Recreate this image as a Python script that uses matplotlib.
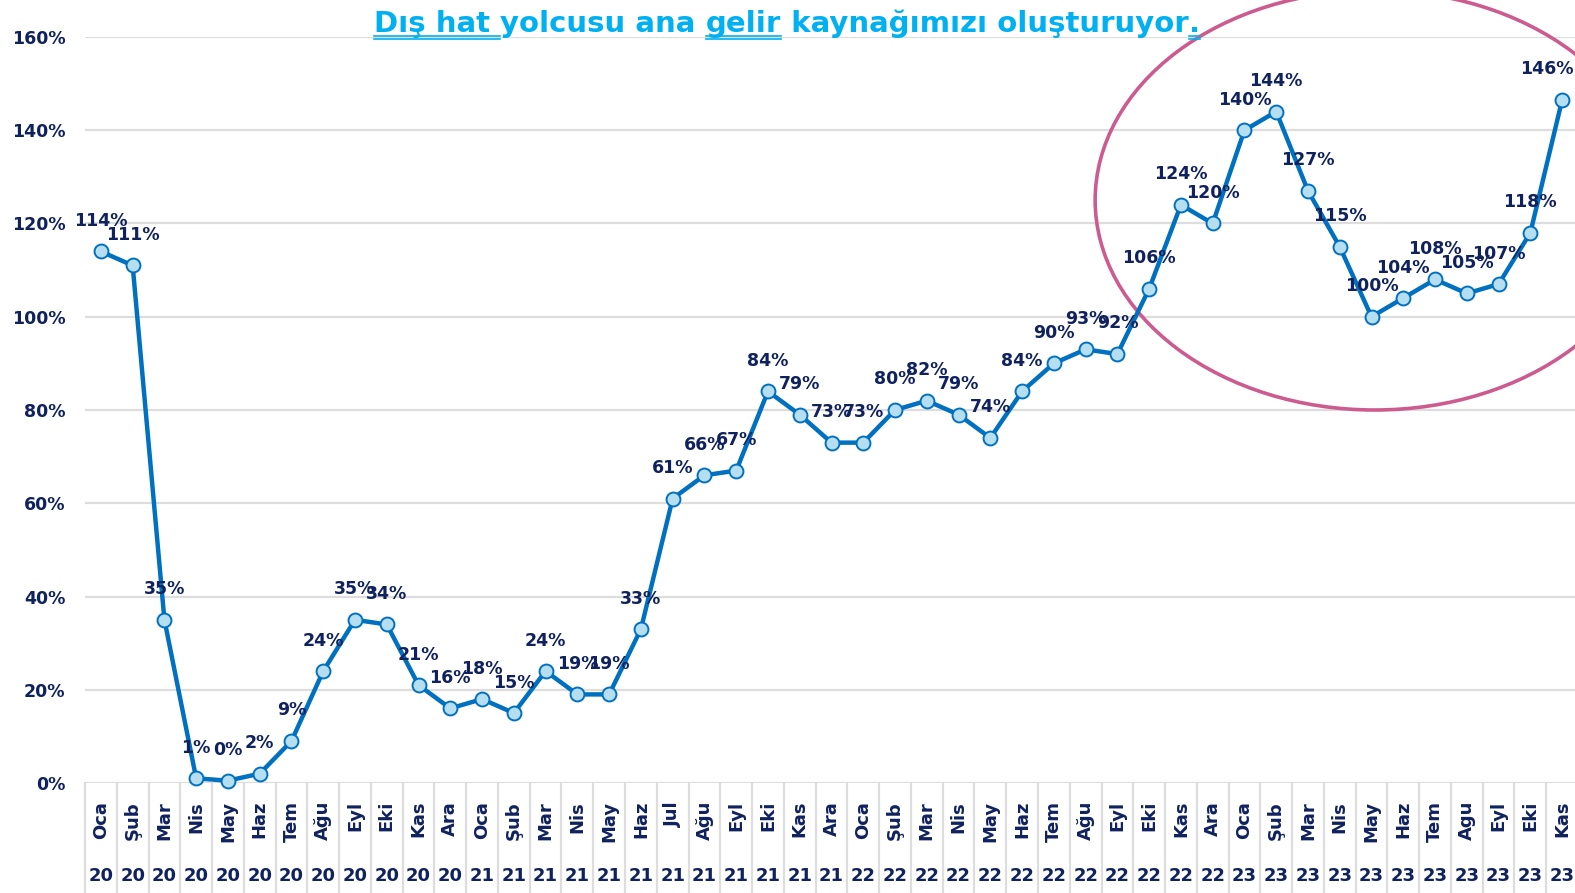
import matplotlib
matplotlib.use("Agg")
import matplotlib.pyplot as plt
from matplotlib.patches import Ellipse
from matplotlib.transforms import blended_transform_factory
from matplotlib.lines import Line2D

# data
months = ["Oca", "Şub", "Mar", "Nis", "May", "Haz", "Tem", "Ağu", "Eyl", "Eki", "Kas", "Ara",
          "Oca", "Şub", "Mar", "Nis", "May", "Haz", "Jul", "Ağu", "Eyl", "Eki", "Kas", "Ara",
          "Oca", "Şub", "Mar", "Nis", "May", "Haz", "Tem", "Ağu", "Eyl", "Eki", "Kas", "Ara",
          "Oca", "Şub", "Mar", "Nis", "May", "Haz", "Tem", "Agu", "Eyl", "Eki", "Kas"]
years = ["20"] * 12 + ["21"] * 12 + ["22"] * 12 + ["23"] * 11
values = [114, 111, 35, 1, 0.5, 2, 9, 24, 35, 34, 21, 16,
          18, 15, 24, 19, 19, 33, 61, 66, 67, 84, 79, 73,
          73, 80, 82, 79, 74, 84, 90, 93, 92, 106, 124, 120,
          140, 144, 127, 115, 100, 104, 108, 105, 107, 118, 146.5]
labels = ["114%", "111%", "35%", "1%", "0%", "2%", "9%", "24%", "35%", "34%", "21%", "16%",
          "18%", "15%", "24%", "19%", "19%", "33%", "61%", "66%", "67%", "84%", "79%", "73%",
          "73%", "80%", "82%", "79%", "74%", "84%", "90%", "93%", "92%", "106%", "124%", "120%",
          "140%", "144%", "127%", "115%", "100%", "104%", "108%", "105%", "107%", "118%", "146%"]
title_parts = [("Dış hat ", True), ("yolcusu ana ", False), ("gelir", True),
               (" kaynağımızı oluşturuyor", False), (".", True)]

NAVY = "#10225E"
BLUE = "#0070C0"
CYAN = "#00B0F0"
GRID = "#DDDDDD"

W, H = 1575, 893
fig = plt.figure(figsize=(W / 100, H / 100), dpi=100)
# plot area runs a little past the right edge, as in the reference
ax = fig.add_axes([85 / W, (H - 783) / H, (1578 - 85) / W, (783 - 37) / H])

n = len(values)
x = list(range(n))
ax.set_xlim(-0.5, n - 0.5)
ax.set_ylim(0, 160)
for s in ax.spines.values():
    s.set_visible(False)
ax.set_yticks(range(0, 161, 20))
ax.set_yticklabels([f"{v}%" for v in range(0, 161, 20)], fontsize=12.5, fontweight="bold", color=NAVY)
ax.tick_params(axis="y", length=0, pad=14)
ax.set_xticks([])
ax.grid(axis="y", color=GRID, lw=1.6)
ax.set_axisbelow(True)

ax.plot(x, values, color=BLUE, lw=3.2, marker="o", ms=10, mfc="#B5DFF0", mec=BLUE, mew=1.4,
        zorder=3, clip_on=False)
for i, (xi, v, lab) in enumerate(zip(x, values, labels)):
    dx = -11 if i == n - 1 else 0   # last label pulled inside the figure
    ax.annotate(lab, (xi, v), xytext=(dx, 22), textcoords="offset points", ha="center",
                va="center", fontsize=12.5, fontweight="bold", color=NAVY, zorder=4,
                annotation_clip=False)

# category labels under the axis
tr = blended_transform_factory(ax.transData, ax.transAxes)
bottom = -(H - 783) / (783 - 37)
for i in range(n + 1):
    ax.add_line(Line2D([i - 0.5, i - 0.5], [0, bottom], transform=tr, color=GRID, lw=1.6,
                       clip_on=False))
for i in range(n):
    ax.text(i, -0.024, months[i], transform=tr, rotation=90, ha="center", va="top",
            fontsize=13, fontweight="bold", color=NAVY)
    ax.text(i, -0.125, years[i], transform=tr, ha="center", va="center",
            fontsize=13, fontweight="bold", color=NAVY)

# highlight ellipse
ax.add_patch(Ellipse((40.1, 125), 17.6, 90, fill=False, ec="#CC5C8F", lw=2.6, clip_on=False,
                     zorder=2))

# title with underlined parts
fig.canvas.draw()
r = fig.canvas.get_renderer()
texts = []
for s, u in title_parts:
    t = fig.text(0, 0, s, fontsize=21, fontweight="bold", color=CYAN, ha="left", va="baseline")
    texts.append((t, u))
widths = [t.get_window_extent(r).width for t, _ in texts]
total = sum(widths)
x0 = 787 - total / 2
base = H - 32
for (t, u), w in zip(texts, widths):
    t.set_position((x0 / W, base / H))
    if u:
        for off in (4, 7):
            fig.add_artist(Line2D([x0 / W, (x0 + w) / W], [(base - off) / H] * 2,
                                  color=CYAN, lw=1.2))
    x0 += w

fig.savefig("out.png", dpi=100)
